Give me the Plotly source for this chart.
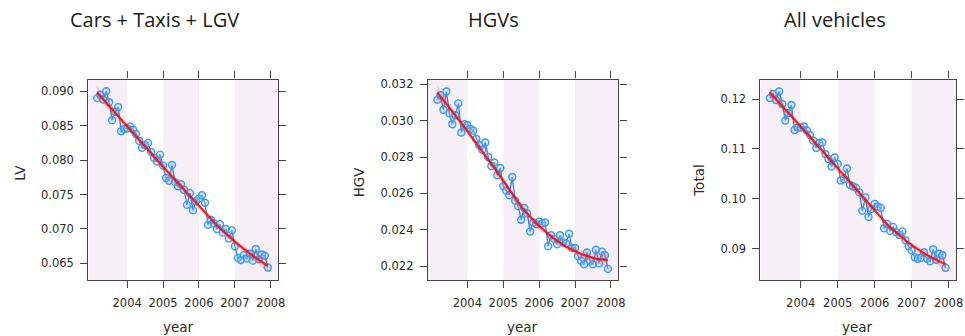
import numpy as np
import plotly.graph_objects as go

# Monthly series, March 2003 - December 2007
months = [2003 + (m - 1) / 12 for m in range(3, 13)] + \
         [y + (m - 1) / 12 for y in range(2004, 2008) for m in range(1, 13)]

lv = [0.0890, 0.0895, 0.0888, 0.0900, 0.0884, 0.0858, 0.0870, 0.0877, 0.0842, 0.0845,
      0.0846, 0.0849, 0.0844, 0.0838, 0.0828, 0.0818, 0.0822, 0.0825, 0.0812, 0.0803, 0.0798, 0.0808,
      0.0792, 0.0774, 0.0770, 0.0793, 0.0768, 0.0762, 0.0765, 0.0757, 0.0735, 0.0752, 0.0727, 0.0740,
      0.0744, 0.0749, 0.0738, 0.0706, 0.0713, 0.0708, 0.0700, 0.0707, 0.0695, 0.0700, 0.0686, 0.0698,
      0.0675, 0.0658, 0.0655, 0.0662, 0.0657, 0.0664, 0.0654, 0.0671, 0.0656, 0.0663, 0.0661, 0.0644]

hgv = [0.03115, 0.03140, 0.03060, 0.03160, 0.03040, 0.02980, 0.03030, 0.03095, 0.02935, 0.02980,
       0.02975, 0.02955, 0.02945, 0.02900, 0.02865, 0.02840, 0.02880, 0.02800, 0.02750, 0.02770, 0.02700, 0.02740,
       0.02640, 0.02615, 0.02590, 0.02690, 0.02560, 0.02530, 0.02455, 0.02520, 0.02490, 0.02390, 0.02440, 0.02430,
       0.02445, 0.02435, 0.02440, 0.02310, 0.02370, 0.02350, 0.02320, 0.02370, 0.02330, 0.02325, 0.02378, 0.02300,
       0.02300, 0.02255, 0.02230, 0.02210, 0.02275, 0.02230, 0.02210, 0.02290, 0.02215, 0.02280, 0.02260, 0.02185]

total = [0.1202, 0.1210, 0.1198, 0.1215, 0.1190, 0.1157, 0.1172, 0.1188, 0.1138, 0.1143,
         0.1143, 0.1145, 0.1137, 0.1128, 0.1117, 0.1102, 0.1112, 0.1113, 0.1090, 0.1080, 0.1065, 0.1083,
         0.1070, 0.1037, 0.1040, 0.1061, 0.1028, 0.1025, 0.1022, 0.1013, 0.0976, 0.1003, 0.0964, 0.0980,
         0.0990, 0.0985, 0.0982, 0.0941, 0.0950, 0.0936, 0.0944, 0.0933, 0.0928, 0.0935, 0.0917, 0.0905,
         0.0897, 0.0883, 0.0880, 0.0882, 0.0893, 0.0880, 0.0875, 0.0899, 0.0878, 0.0890, 0.0887, 0.0862]

titles = ["Cars + Taxis + LGV", "HGVs", "All vehicles"]
ylabels = ["LV", "HGV", "Total"]
year_ticks = [2004, 2005, 2006, 2007, 2008]
y_ticks = [[0.065, 0.070, 0.075, 0.080, 0.085, 0.090],
           [0.022, 0.024, 0.026, 0.028, 0.030, 0.032],
           [0.09, 0.10, 0.11, 0.12]]
y_formats = [".3f", ".3f", ".2f"]

W, H = 965, 336
# panel boxes in pixels: (left, right, top, bottom)
boxes = [(89, 280, 78, 280), (431, 623, 78, 280), (766, 963, 78, 280)]
x_ranges = [[2002.92, 2008.2], [2002.9, 2008.21], [2002.91, 2008.2]]
y_ranges = [[0.06254, 0.0917], [0.02122, 0.03226], [0.08369, 0.1239]]
title_x = [156, 497, 841]
ylab_pos = [(20, 172), (362, 181), (704, 179)]
xlab_x = [180, 526, 864]

tick_font = dict(family="DejaVu Sans, sans-serif", size=11.5, color="#2a2a2a")
label_font = dict(family="DejaVu Sans, sans-serif", size=13.5, color="#2a2a2a")
frame = "#444444"
band_fill = "#f6f0f6"


def local_poly(xv, yv, span=0.85, degree=2):
    """Tricube-weighted local polynomial smoother with pointwise 95% band."""
    n = len(xv)
    k = int(np.ceil(span * n))
    L = np.zeros((n, n))
    for j, x0 in enumerate(xv):
        d = np.abs(xv - x0)
        h = np.sort(d)[k - 1] * 1.0001
        w = np.clip(1 - (d / h) ** 3, 0, None) ** 3
        X = np.column_stack([(xv - x0) ** p for p in range(degree + 1)])
        WX = X * w[:, None]
        L[j] = np.linalg.solve(X.T @ WX, WX.T)[0]
    fit = L @ yv
    resid = yv - fit
    dof = n - np.trace(L)
    sigma = np.sqrt(np.sum(resid ** 2) / dof)
    se = sigma * np.sqrt(np.sum(L ** 2, axis=1))
    return fit, fit - 1.96 * se, fit + 1.96 * se


fig = go.Figure()
x = np.array(months)
annotations = []
shapes = []

for i, series in enumerate([lv, hgv, total]):
    s = "" if i == 0 else str(i + 1)
    xa, ya = "x" + s, "y" + s
    y = np.array(series)
    fit, lo, hi = local_poly(x, y)

    fig.add_trace(go.Scatter(
        x=x, y=y, mode="lines+markers", xaxis=xa, yaxis=ya,
        line=dict(color="#2f7fd8", width=1.3),
        marker=dict(symbol="circle", size=7, color="rgba(140,200,250,0.35)",
                    line=dict(color="#3b9be8", width=1.4)),
        showlegend=False, hoverinfo="skip"))
    fig.add_trace(go.Scatter(
        x=np.concatenate([x, x[::-1]]), y=np.concatenate([hi, lo[::-1]]),
        fill="toself", fillcolor="rgba(255,60,80,0.22)", line=dict(width=0),
        xaxis=xa, yaxis=ya, showlegend=False, hoverinfo="skip"))
    fig.add_trace(go.Scatter(
        x=x, y=fit, mode="lines", xaxis=xa, yaxis=ya,
        line=dict(color="rgba(255,0,0,0.85)", width=2.2),
        showlegend=False, hoverinfo="skip"))

    l, r, t, b = boxes[i]
    common = dict(showline=True, linecolor=frame, linewidth=1.2, mirror="allticks",
                  ticks="outside", ticklen=7, tickcolor=frame, tickwidth=1.2,
                  showgrid=False, zeroline=False, tickfont=tick_font)
    fig.update_layout(**{
        "xaxis" + s: dict(domain=[l / W, r / W], range=x_ranges[i], anchor=ya,
                          tickvals=year_ticks, ticktext=[str(v) for v in year_ticks],
                          ticklabelstandoff=5, **common),
        "yaxis" + s: dict(domain=[1 - b / H, 1 - t / H], range=y_ranges[i], anchor=xa,
                          tickvals=y_ticks[i], tickformat=y_formats[i],
                          ticklabelstandoff=4, **common),
    })

    # alternating year shading
    for x0, x1 in [(x_ranges[i][0], 2004), (2005, 2006), (2007, x_ranges[i][1])]:
        shapes.append(dict(type="rect", xref=xa, yref=ya + " domain", x0=x0, x1=x1,
                           y0=0, y1=1, fillcolor=band_fill, line=dict(width=0), layer="below"))

    annotations.append(dict(text=titles[i], x=title_x[i] / W, y=1 - 18 / H, xref="paper",
                            yref="paper", showarrow=False, xanchor="center", yanchor="middle",
                            font=dict(family="Open Sans, sans-serif", size=20, color="#1a1a1a")))
    annotations.append(dict(text=ylabels[i], x=ylab_pos[i][0] / W, y=1 - ylab_pos[i][1] / H,
                            xref="paper", yref="paper", showarrow=False, textangle=-90,
                            xanchor="center", yanchor="middle", font=label_font))
    annotations.append(dict(text="year", x=xlab_x[i] / W, y=1 - 327 / H, xref="paper",
                            yref="paper", showarrow=False, xanchor="center", yanchor="middle",
                            font=label_font))

fig.update_layout(width=W, height=H, margin=dict(l=0, r=0, t=0, b=0),
                  paper_bgcolor="white", plot_bgcolor="white",
                  shapes=shapes, annotations=annotations)

fig.write_html("out.html")
